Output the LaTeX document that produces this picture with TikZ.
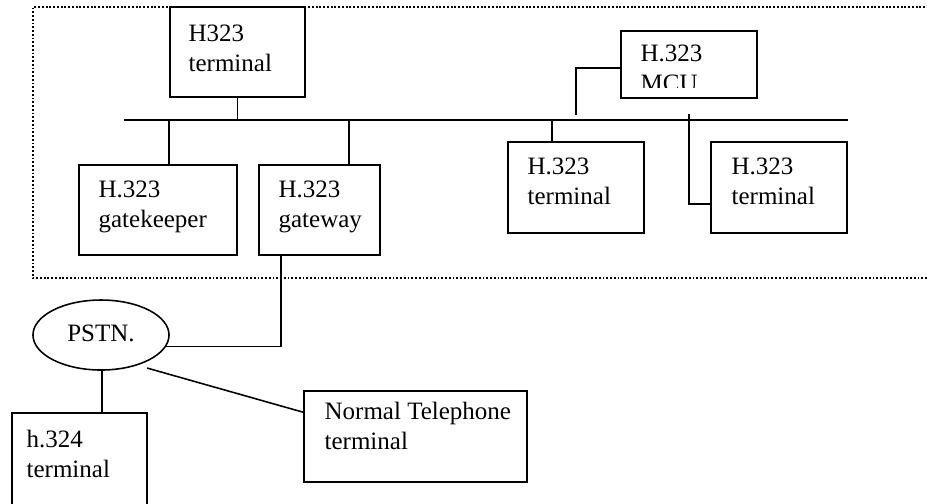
\documentclass[tikz,border=0pt]{standalone}
\usepackage{fontspec}
\setmainfont{Liberation Serif}
\usetikzlibrary{fit,calc,shapes.geometric}
\begin{document}
\begin{tikzpicture}[x=0.48pt,y=-0.48pt,
  box/.style={draw,line width=0.75pt,inner sep=0pt},
  txt/.style={anchor=north west,inner sep=0pt,align=left,font=\fontsize{12}{14.2}\selectfont},
  wire/.style={line width=0.75pt},
  dotline/.style={line width=0.8pt,dash pattern=on 0.9pt off 0.9pt}]
\useasboundingbox (0,0) rectangle (927,503);
% dotted region
\draw[dotline] (940,7) -- (33,7) -- (33,278) -- (940,278);
% boxes
\node[box,fit={(170,7) (305,97)}] (t0) {};
\node[box,fit={(621,31) (757,98)}] (mcu) {};
\node[box,fit={(79,165) (237,255)}] (gk) {};
\node[box,fit={(259,165) (380,255)}] (gw) {};
\node[box,fit={(508,142) (644,233)}] (tm) {};
\node[box,fit={(711,142) (847,233)}] (tr) {};
\node[box,fit={(12,413) (147,515)}] (h324) {};
\node[box,fit={(304,391) (527,482)}] (nt) {};
\node[draw,line width=0.75pt,ellipse,inner sep=0pt,minimum width=65.3pt,minimum height=33.6pt] (pstn) at (101,335) {};
\node[inner sep=0pt,anchor=base,font=\fontsize{12}{14.2}\selectfont] (pstntxt) at (101,341) {PSTN.};
% texts
\node[txt] (t0txt) at ($(t0.north west)+(19,16.25)$) {\rule{0pt}{9pt}H323\\terminal};
\begin{scope}
\clip (621,31) rectangle (757,87);
\node[txt] (mcutxt) at ($(mcu.north west)+(20,12.25)$) {\rule{0pt}{9pt}H.323\\MCU};
\end{scope}
\node[txt] (gktxt) at ($(gk.north west)+(20,14.25)$) {\rule{0pt}{9pt}H.323\\gatekeeper};
\node[txt] (gwtxt) at ($(gw.north west)+(20,14.25)$) {\rule{0pt}{9pt}H.323\\gateway};
\node[txt] (tmtxt) at ($(tm.north west)+(20,14.25)$) {\rule{0pt}{9pt}H.323\\terminal};
\node[txt] (trtxt) at ($(tr.north west)+(21,14.25)$) {\rule{0pt}{9pt}H.323\\terminal};
\node[txt] (h324txt) at ($(h324.north west)+(15,16.25)$) {\rule{0pt}{9pt}h.324\\terminal};
\node[txt] (nttxt) at ($(nt.north west)+(21,10.25)$) {\rule{0pt}{9pt}Normal Telephone\\terminal};
% bus
\coordinate (busL) at (124,120);
\coordinate (busR) at (848,120);
\draw[wire] (busL) -- (busR);
% drops
\draw[wire] (t0.south) -- (t0.south |- busL);
\coordinate (gkd) at ($(gk.north west)+(91,0)$);
\draw[wire] (gkd) -- (gkd |- busL);
\coordinate (gwd) at ($(gw.north west)+(91,0)$);
\draw[wire] (gwd) -- (gwd |- busL);
\coordinate (tmd) at ($(tm.north west)+(45,0)$);
\draw[wire] (tmd) -- (tmd |- busL);
% MCU links
\coordinate (mcuL) at ($(mcu.north west)+(0,38)$);
\coordinate (mcuE) at (576,115);
\draw[wire] (mcuL) -| (mcuE);
\coordinate (mcuR) at (689,114);
\coordinate (trL) at ($(tr.north west)+(0,63)$);
\draw[wire] (mcuR) |- (trL);
% gateway to PSTN
\coordinate (gwb) at ($(gw.south west)+(23,0)$);
\draw[wire] (gwb) |- (pstn.-10);
% PSTN to terminals
\coordinate (pd) at (102,370);
\draw[wire] (pd) -- (pd |- h324.north);
\coordinate (pdiag) at (147,368);
\coordinate (ntL) at ($(nt.north west)+(0,22)$);
\draw[wire] (pdiag) -- (ntL);
\end{tikzpicture}
\end{document}
